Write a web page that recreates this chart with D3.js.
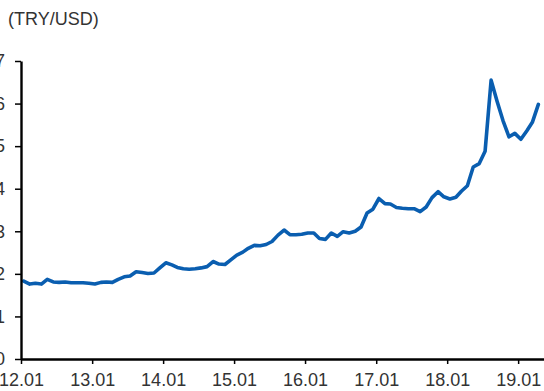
<!DOCTYPE html>
<html>
<head>
<meta charset="utf-8">
<script src="https://cdn.jsdelivr.net/npm/d3@7"></script>
<style>
  html, body { margin: 0; padding: 0; background: #fff; overflow: hidden; }
  svg { display: block; font-family: "Liberation Sans", Arial, sans-serif; }
</style>
</head>
<body>
<svg id="chart" width="544" height="391"></svg>
<script>
// Month-end TRY per USD, one array per calendar year (Jan..Dec)
const rates2012 = [1.83, 1.76, 1.78, 1.76, 1.87, 1.81, 1.80, 1.81, 1.79, 1.79, 1.79, 1.78];
const rates2013 = [1.76, 1.80, 1.81, 1.80, 1.87, 1.93, 1.95, 2.05, 2.03, 2.01, 2.02, 2.14];
const rates2014 = [2.26, 2.21, 2.15, 2.12, 2.11, 2.12, 2.14, 2.17, 2.29, 2.23, 2.22, 2.33];
const rates2015 = [2.44, 2.51, 2.60, 2.67, 2.66, 2.69, 2.76, 2.91, 3.03, 2.92, 2.92, 2.93];
const rates2016 = [2.96, 2.96, 2.83, 2.81, 2.96, 2.88, 2.99, 2.96, 3.00, 3.10, 3.43, 3.52];
const rates2017 = [3.77, 3.65, 3.64, 3.56, 3.54, 3.53, 3.53, 3.46, 3.57, 3.79, 3.93, 3.81];
const rates2018 = [3.76, 3.80, 3.94, 4.07, 4.51, 4.59, 4.88, 6.55, 6.05, 5.60, 5.22, 5.30];
const rates2019 = [5.16, 5.36, 5.56, 5.98];

const years = [2012, 2013, 2014, 2015, 2016, 2017, 2018, 2019];
const ratesByYear = [rates2012, rates2013, rates2014, rates2015, rates2016, rates2017, rates2018, rates2019];

const yTicks = [0, 1, 2, 3, 4, 5, 6, 7];
const xTickLabels = ["12.01", "13.01", "14.01", "15.01", "16.01", "17.01", "18.01", "19.01"];
const unitLabel = "(TRY/USD)";

// Each monthly value sits mid-month on the time axis
const series = [];
ratesByYear.forEach((arr, yi) => {
  arr.forEach((v, m) => series.push({ date: new Date(years[yi], m, 15), value: v }));
});

const svg = d3.select("#chart");
const textColor = "#333";
const fontSize = 18;

const x = d3.scaleTime()
  .domain([new Date(2012, 0, 1), new Date(2019, 4, 14)])
  .range([21, 544]);

const y = d3.scaleLinear()
  .domain([0, 7])
  .range([359, 61]);

// Exchange-rate line
const line = d3.line()
  .x(d => x(d.date))
  .y(d => y(d.value));

svg.append("path")
  .datum(series)
  .attr("fill", "none")
  .attr("stroke", "#0a5eb0")
  .attr("stroke-width", 3.6)
  .attr("stroke-linejoin", "round")
  .attr("stroke-linecap", "round")
  .attr("d", line);

// Y axis
const yAxis = svg.append("g")
  .attr("transform", `translate(${x.range()[0]},0)`)
  .call(d3.axisLeft(y)
    .tickValues(yTicks)
    .tickFormat(d3.format("d"))
    .tickSize(6)
    .tickSizeOuter(0)
    .tickPadding(10));

// X axis
const xAxis = svg.append("g")
  .attr("transform", `translate(0,${y(0)})`)
  .call(d3.axisBottom(x)
    .tickValues(years.map(yr => new Date(yr, 0, 1)))
    .tickFormat((d, i) => xTickLabels[i])
    .tickSize(5)
    .tickSizeOuter(0)
    .tickPadding(9));

[yAxis, xAxis].forEach(g => {
  g.select(".domain").attr("stroke", "#000").attr("stroke-width", 2.4);
  g.selectAll(".tick line").attr("stroke", "#000").attr("stroke-width", 1.5);
  g.selectAll(".tick text")
    .attr("fill", textColor)
    .style("font-size", fontSize + "px")
    .style("font-family", "'Liberation Sans', Arial, sans-serif");
});

// Unit label
svg.append("text")
  .attr("x", 8)
  .attr("y", 25)
  .attr("fill", textColor)
  .style("font-size", fontSize + "px")
  .text(unitLabel);
</script>
</body>
</html>
